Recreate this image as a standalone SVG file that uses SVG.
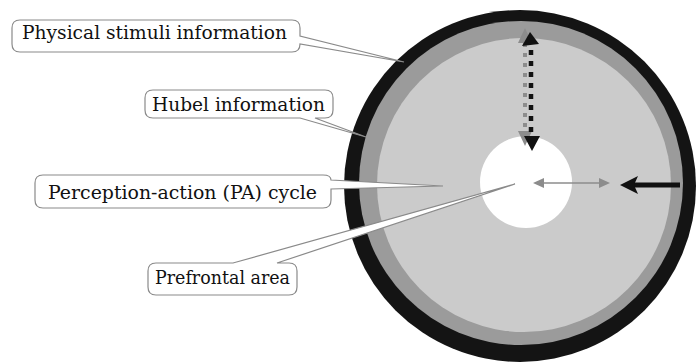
<svg xmlns="http://www.w3.org/2000/svg" width="697" height="363" viewBox="0 0 697 363">
<style>
.callout{fill:#fff;stroke:#8a8a8a;stroke-width:1.2}
.lbl{font-family:'DejaVu Serif','Liberation Serif',serif;font-size:19px;fill:#111}
.gray{fill:#8c8c8c}
.blk{fill:#111}
</style>
<rect width="697" height="363" fill="#fff"/>
<g id="ring">
<circle cx="520" cy="186" r="176" fill="#141414"/>
<circle cx="521" cy="183" r="162" fill="#9b9b9b"/>
<circle cx="524" cy="185" r="147" fill="#cbcbcb"/>
<circle cx="526" cy="182" r="46" fill="#fff"/>
</g>
<g id="physical">
<path class="callout" d="M20,20 H292 Q300,20 300,28 V36 L404,62 L300,44 Q300,52 292,52 H20 Q12,52 12,44 V28 Q12,20 20,20 Z"/>
<text class="lbl" x="22" y="39" textLength="265" lengthAdjust="spacingAndGlyphs">Physical stimuli information</text>
</g>
<g id="hubel">
<path class="callout" d="M153,90 H325 Q333,90 333,98 V110 Q333,118 325,118 H315 L366,137 L300,118 H153 Q145,118 145,110 V98 Q145,90 153,90 Z"/>
<text class="lbl" x="152" y="111" textLength="173" lengthAdjust="spacingAndGlyphs">Hubel information</text>
</g>
<g id="pa-cycle">
<path class="callout" d="M43,175 H323 Q331,175 331,180 L443,186 L331,189 V200 Q331,208 323,208 H43 Q35,208 35,200 V183 Q35,175 43,175 Z"/>
<text class="lbl" x="48" y="199" textLength="269" lengthAdjust="spacingAndGlyphs">Perception-action (PA) cycle</text>
</g>
<g id="prefrontal">
<path class="callout" d="M156,263 H233 L515,184 L277,263 H289 Q297,263 297,271 V287 Q297,295 289,295 H156 Q148,295 148,287 V271 Q148,263 156,263 Z"/>
<text class="lbl" x="155" y="284" textLength="135" lengthAdjust="spacingAndGlyphs">Prefrontal area</text>
</g>
<g id="connectors">
<line x1="525" y1="43" x2="525" y2="131" stroke="#8c8c8c" stroke-width="4" stroke-dasharray="4 6"/>
<polygon class="gray" points="525,28 518,43 532,43"/>
<polygon class="gray" points="525,146 518,131 532,131"/>
<line x1="531" y1="50" x2="531" y2="136" stroke="#111" stroke-width="4.5" stroke-dasharray="5 6"/>
<polygon class="blk" points="530,32 522,46 539,44"/>
<polygon class="blk" points="532,151 524,136 540,136"/>
<line x1="542" y1="183" x2="601" y2="183" stroke="#8c8c8c" stroke-width="1.5"/>
<polygon class="gray" points="533,183 544,178 544,188"/>
<polygon class="gray" points="610,183 599,178 599,188"/>
<line x1="632" y1="185" x2="680" y2="185" stroke="#111" stroke-width="5"/>
<polygon class="blk" points="620,185 638,176 634,185 638,194"/>
</g>
</svg>
